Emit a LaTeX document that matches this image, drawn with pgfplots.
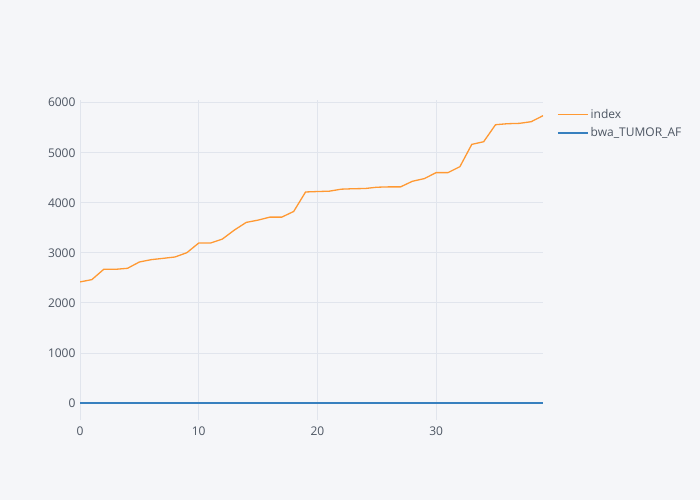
\documentclass[border=0pt]{standalone}
\usepackage{pgfplots}
\pgfplotsset{compat=1.18}
\usepackage{fontspec}
\setmainfont{Open Sans}
\definecolor{bgc}{HTML}{F5F6F9}
\definecolor{gridc}{HTML}{E1E5ED}
\definecolor{txtc}{HTML}{4D5663}
\definecolor{orangec}{HTML}{FF9933}
\definecolor{bluec}{HTML}{3780BF}
\begin{document}
\begin{tikzpicture}[x=1pt,y=1pt]
\fill[bgc] (0,0) rectangle (700,500);
\begin{axis}[
  at={(80pt,80pt)}, anchor=south west,
  scale only axis, width=463pt, height=320pt,
  xmin=0, xmax=39, ymin=-340, ymax=6054,
  xtick={0,10,20,30}, ytick={0,1000,2000,3000,4000,5000,6000},
  grid=major, major grid style={gridc, line width=0.8pt},
  axis line style={draw=none}, major tick length=0pt,
  tick label style={font=\fontsize{12}{14}\selectfont, text=txtc},
  /pgf/number format/assume math mode=true,
  /pgf/number format/1000 sep={},
  yticklabel style={xshift=-1pt},
  xticklabel style={yshift=-3pt},
  legend style={at={(1.0,1.0)}, anchor=north west, xshift=11pt, yshift=-5pt, draw=none, fill=none,
    font=\fontsize{12}{14}\selectfont, text=txtc, row sep=4pt},
  legend cell align=left,
  legend image code/.code={\draw[#1, line width=1.5pt] (0pt,0pt) -- (30pt,0pt);},
  clip=true,
]
\addplot[orangec, line width=1.3pt] coordinates {
(0,2419) (1,2465) (2,2671) (3,2671) (4,2691) (5,2817) (6,2864) (7,2890) (8,2917) (9,3003)
(10,3196) (11,3196) (12,3276) (13,3455) (14,3608) (15,3654) (16,3714) (17,3714) (18,3827) (19,4216)
(20,4225) (21,4232) (22,4272) (23,4281) (24,4285) (25,4311) (26,4318) (27,4318) (28,4430) (29,4483)
(30,4603) (31,4603) (32,4722) (33,5167) (34,5220) (35,5560) (36,5580) (37,5587) (38,5620) (39,5740)
};
\addlegendentry{index}
\addplot[bluec, line width=1.5pt] coordinates {
(0,0) (1,0) (2,0) (3,0) (4,0) (5,0) (6,0) (7,0) (8,0) (9,0)
(10,0) (11,0) (12,0) (13,0) (14,0) (15,0) (16,0) (17,0) (18,0) (19,0)
(20,0) (21,0) (22,0) (23,0) (24,0) (25,0) (26,0) (27,0) (28,0) (29,0)
(30,0) (31,0) (32,0) (33,0) (34,0) (35,0) (36,0) (37,0) (38,0) (39,0)
};
\addlegendentry{bwa\_TUMOR\_AF}
\end{axis}
\end{tikzpicture}
\end{document}
